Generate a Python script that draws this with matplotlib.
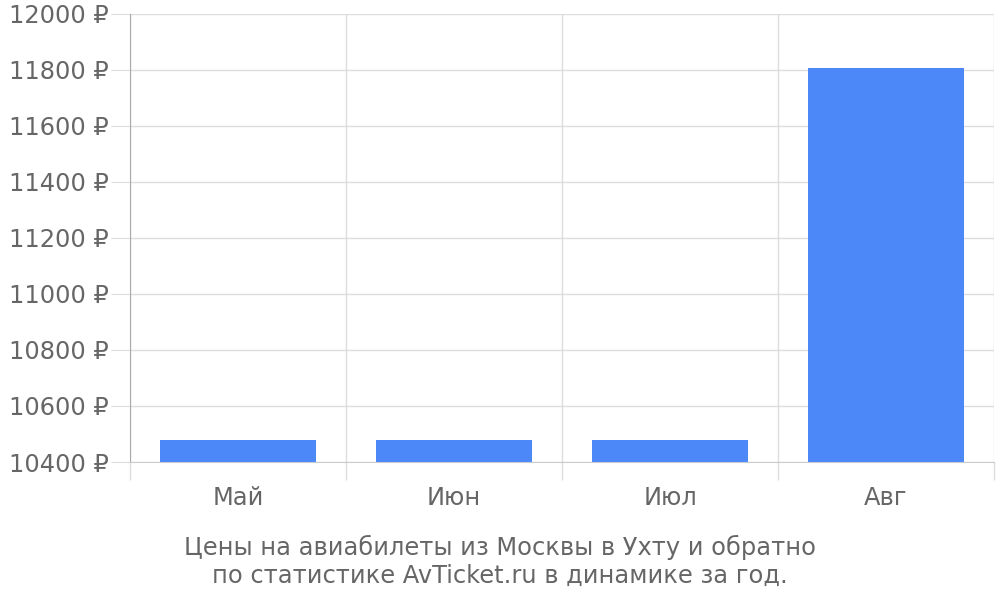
import matplotlib
matplotlib.use("Agg")
import matplotlib.pyplot as plt
from matplotlib.ticker import FixedLocator, NullFormatter

# data
months = ["Май", "Июн", "Июл", "Авг"]
prices = [10480, 10480, 10480, 11806]
y_ticks = [10400, 10600, 10800, 11000, 11200, 11400, 11600, 11800, 12000]

C_BAR = "#4d88f9"
C_TEXT = "#666666"
C_GRID = "#dddddd"
C_AXIS = "#aaaaaa"

plt.rcParams["font.family"] = ["DejaVu Sans"]

fig = plt.figure(figsize=(10, 6), dpi=100)
ax = fig.add_axes([0.13, 0.23, 0.864, 0.7467])

x = list(range(len(months)))
ax.bar(x, prices, width=0.72, color=C_BAR, zorder=3)

ax.set_xlim(-0.5, len(months) - 0.5)
ax.set_ylim(y_ticks[0], y_ticks[-1])

ax.set_yticks(y_ticks)
ax.set_yticklabels([f"{v} ₽" for v in y_ticks])
ax.tick_params(axis="y", length=14, color=C_GRID, pad=1,
               labelsize=17.4, labelcolor=C_TEXT)
ax.grid(axis="y", color=C_GRID, linewidth=1, zorder=0)

ax.set_xticks(x)
ax.set_xticklabels(months)
ax.tick_params(axis="x", which="major", length=0, pad=17,
               labelsize=17.4, labelcolor=C_TEXT)
ax.xaxis.set_minor_locator(FixedLocator([i + 0.5 for i in range(-1, len(months))]))
ax.xaxis.set_minor_formatter(NullFormatter())
ax.tick_params(axis="x", which="minor", length=13, color=C_GRID, width=1)
ax.grid(axis="x", which="minor", color=C_GRID, linewidth=1, zorder=0)

for side in ["top", "right"]:
    ax.spines[side].set_visible(False)
ax.spines["left"].set_color(C_AXIS)
ax.spines["left"].set_bounds(y_ticks[0], y_ticks[-1])
ax.spines["bottom"].set_color("#cccccc")

fig.text(0.5, 0.065,
         "Цены на авиабилеты из Москвы в Ухту и обратно\n"
         "по статистике AvTicket.ru в динамике за год.",
         ha="center", va="center", fontsize=17.4, color=C_TEXT,
         linespacing=1.2)

fig.savefig("out.png", dpi=100, facecolor="white")
